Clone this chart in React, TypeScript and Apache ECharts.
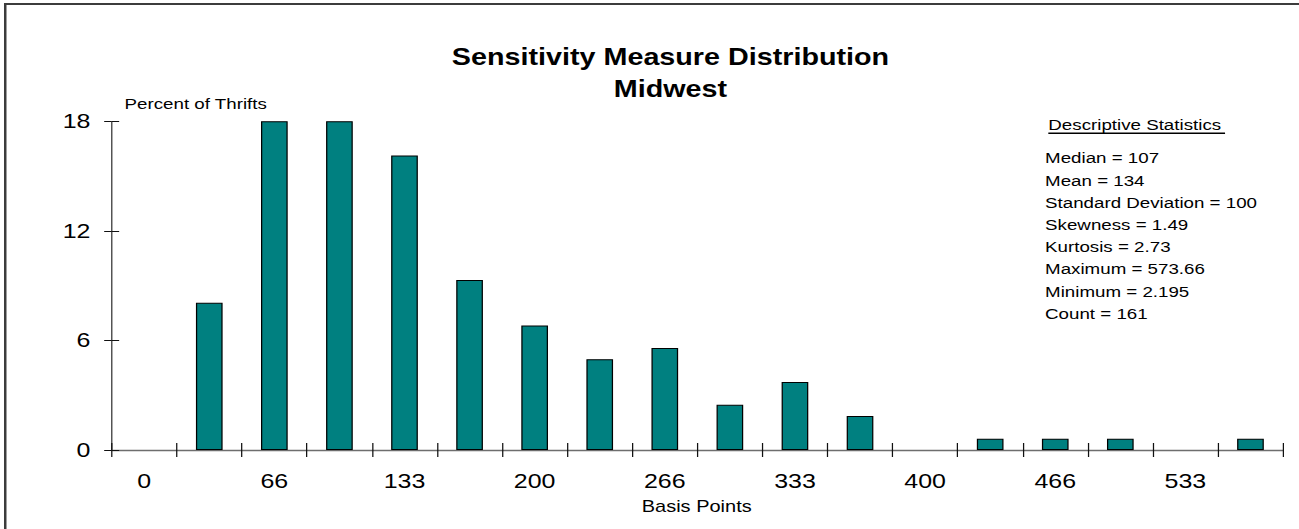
import React, { useEffect, useRef } from 'react';
import * as echarts from 'echarts';

// ---- data ----
const BIN_LABELS = ['0', '33', '66', '100', '133', '166', '200', '233', '266', '300', '333', '366', '400', '433', '466', '500', '533', '566'];
const PERCENT_OF_THRIFTS = [0, 8.07, 19.25, 19.25, 16.15, 9.32, 6.83, 4.97, 5.59, 2.48, 3.73, 1.86, 0, 0.62, 0.62, 0.62, 0, 0.62];
const Y_MIN = 0;
const Y_MAX = 18;
const Y_STEP = 6;
const TITLE_LINES = ['Sensitivity Measure Distribution', 'Midwest'];
const Y_AXIS_NAME = 'Percent of Thrifts';
const X_AXIS_NAME = 'Basis Points';
const STATS_HEADING = 'Descriptive Statistics';
const STATS_LINES = [
  'Median = 107',
  'Mean = 134',
  'Standard Deviation = 100',
  'Skewness = 1.49',
  'Kurtosis = 2.73',
  'Maximum = 573.66',
  'Minimum = 2.195',
  'Count = 161',
];

// ---- layout ----
const FULL_W = 1299;
const FULL_H = 529;
const BASE_W = 1040;
const SX = FULL_W / BASE_W;
const FONT = '"Liberation Sans", Arial, Helvetica, sans-serif';

export default function App() {
  const ref = useRef<HTMLDivElement>(null);

  useEffect(() => {
    if (!ref.current) return;
    const chart = echarts.init(ref.current, undefined, { renderer: 'svg' });

    const graphic: any[] = [
      {
        type: 'line',
        silent: true,
        z: -10,
        shape: { x1: 3.2, y1: 4, x2: BASE_W + 20, y2: 4 },
        style: { stroke: '#3c3c3c', lineWidth: 2 },
      },
      {
        type: 'line',
        silent: true,
        z: -10,
        shape: { x1: 4.2, y1: 3, x2: 4.2, y2: FULL_H + 20 },
        style: { stroke: '#3c3c3c', lineWidth: 2 },
      },
      ...TITLE_LINES.map((t, i) => ({
        type: 'text',
        x: 536.8,
        y: 57.5 + i * 31.5,
        style: {
          text: t,
          fontSize: 23,
          fontWeight: 'bold',
          fontFamily: FONT,
          fill: '#000',
          align: 'center',
          verticalAlign: 'middle',
        },
      })),
      {
        type: 'text',
        x: 99.7,
        y: 104.5,
        style: { text: Y_AXIS_NAME, fontSize: 15, fontFamily: FONT, fill: '#000', align: 'left', verticalAlign: 'middle' },
      },
      {
        type: 'text',
        x: 557.8,
        y: 506.7,
        style: { text: X_AXIS_NAME, fontSize: 16, fontFamily: FONT, fill: '#000', align: 'center', verticalAlign: 'middle' },
      },
      {
        type: 'text',
        x: 839.3,
        y: 125,
        style: { text: STATS_HEADING, fontSize: 15, fontFamily: FONT, fill: '#000', align: 'left', verticalAlign: 'middle' },
      },
      {
        type: 'line',
        silent: true,
        shape: { x1: 839.3, y1: 133.3, x2: 980.8, y2: 133.3 },
        style: { stroke: '#000', lineWidth: 1.6 },
      },
      ...STATS_LINES.map((t, i) => ({
        type: 'text',
        x: 836.7,
        y: 158.5 + i * 22.2,
        style: { text: t, fontSize: 15, fontFamily: FONT, fill: '#000', align: 'left', verticalAlign: 'middle' },
      })),
    ];

    const option: any = {
      animation: false,
      grid: { left: 89.4, right: 12.8, top: 121.7, bottom: 79 },
      xAxis: [
        {
          type: 'category',
          data: BIN_LABELS,
          boundaryGap: true,
          position: 'bottom',
          axisLine: { show: true, onZero: false, lineStyle: { color: '#6e6e6e', width: 1.3 } },
          axisTick: { show: true, interval: 0, length: 7, lineStyle: { color: '#111', width: 1 } },
          axisLabel: { show: true, interval: 1, margin: 21, fontSize: 20, color: '#000', fontFamily: FONT },
          splitLine: { show: false },
        },
        {
          type: 'category',
          data: BIN_LABELS,
          boundaryGap: true,
          position: 'bottom',
          axisLine: { show: false, onZero: false },
          axisTick: { show: true, inside: true, interval: 0, length: 7, lineStyle: { color: '#111', width: 1 } },
          axisLabel: { show: false },
          splitLine: { show: false },
        },
      ],
      yAxis: [
        {
          type: 'value',
          min: Y_MIN,
          max: Y_MAX,
          interval: Y_STEP,
          position: 'left',
          axisLine: { show: true, lineStyle: { color: '#333', width: 1 } },
          axisTick: { show: true, length: 6, lineStyle: { color: '#111', width: 1 } },
          axisLabel: { show: true, margin: 17, fontSize: 20, color: '#000', fontFamily: FONT },
          splitLine: { show: false },
        },
        {
          type: 'value',
          min: Y_MIN,
          max: Y_MAX,
          interval: Y_STEP,
          position: 'left',
          axisLine: { show: false },
          axisTick: { show: true, inside: true, length: 6, lineStyle: { color: '#111', width: 1 } },
          axisLabel: { show: false },
          splitLine: { show: false },
        },
      ],
      series: [
        {
          type: 'bar',
          xAxisIndex: 0,
          yAxisIndex: 0,
          data: PERCENT_OF_THRIFTS.map((v) => (v === 0 ? '-' : v)),
          barWidth: '41%',
          clip: true,
          itemStyle: { color: '#008080', borderColor: '#000', borderWidth: 1 },
        },
      ],
      graphic,
    };

    chart.setOption(option);
    return () => chart.dispose();
  }, []);

  return (
    <div
      style={{
        position: 'fixed',
        left: 0,
        top: 0,
        width: '100vw',
        height: '100vh',
        overflow: 'hidden',
        background: '#ffffff',
      }}
    >
      <div
        ref={ref}
        style={{
          width: BASE_W,
          height: FULL_H,
          transform: `scaleX(${SX})`,
          transformOrigin: '0 0',
          overflow: 'hidden',
        }}
      />
    </div>
  );
}
